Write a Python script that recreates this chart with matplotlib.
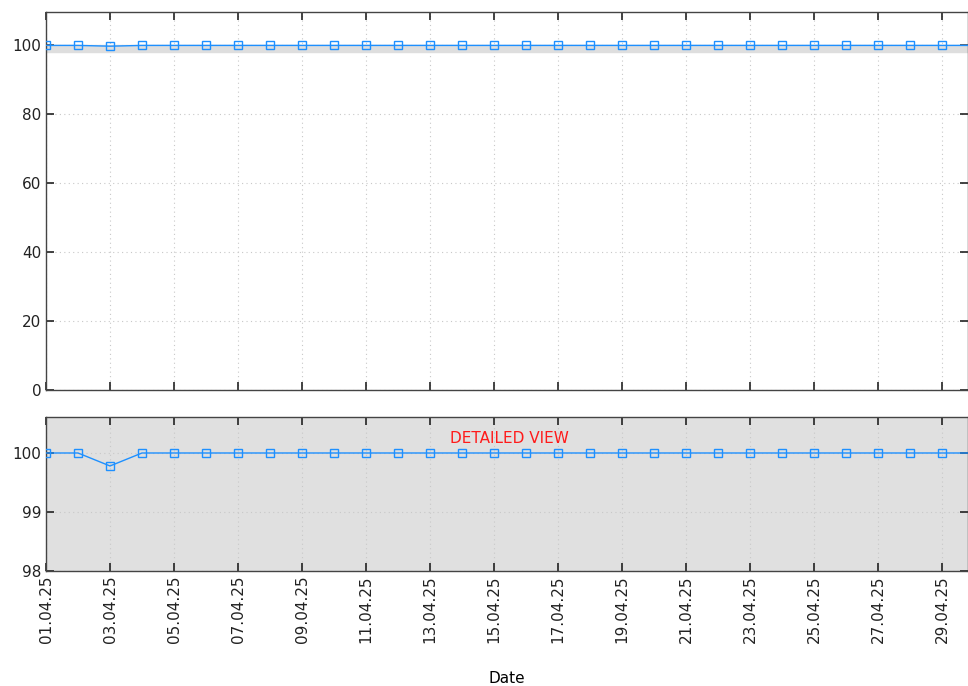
import matplotlib
matplotlib.use("Agg")
import matplotlib.pyplot as plt
import matplotlib.dates as mdates
import numpy as np
import datetime as dt

days = list(range(1, 31))
dates = [dt.date(2025, 4, d) for d in days]
values = [100, 100, 99.78, 100, 100, 100, 100, 100, 100, 100,
          100, 100, 100, 100, 100, 100, 100, 100, 100, 100,
          100, 100, 100, 100, 100, 100, 100, 100, 100, 100]
detail_range = [98, 100]
top_yticks = [0, 20, 40, 60, 80, 100]
bottom_yticks = [98, 99, 100]
xtick_dates = dates[:29:2]

plt.rcParams['font.family'] = ['DejaVu Sans']
fig = plt.figure(figsize=(9.68, 6.86), dpi=100)
W, H = 968, 686
x0, x1 = 46, 968
ax1 = fig.add_axes([x0 / W, 1 - 390 / H, (x1 - x0) / W, (390 - 12) / H])
ax2 = fig.add_axes([x0 / W, 1 - 571 / H, (x1 - x0) / W, (571 - 417) / H])

color = '#1e90ff'
xnum = mdates.date2num(dates)
xmin = xnum[0]
xmax = xnum[0] + (x1 - x0) / 32.0

for ax in (ax1, ax2):
    ax.plot(dates, values, color=color, lw=1.0, marker='s', ms=5.5,
            mfc='none', mec=color, mew=1.0, zorder=3, clip_on=True)
    ax.set_xlim(xmin, xmax)
    ax.set_xticks(mdates.date2num(xtick_dates))
    ax.xaxis.set_major_formatter(mdates.DateFormatter('%d.%m.%y'))
    ax.grid(True, linestyle=(0, (1, 3)), color='#c8c8c8', lw=0.8)
    ax.tick_params(direction='in', length=6, width=1.2, top=True, right=True,
                   labelsize=11, colors='#222222')
    for s in ax.spines.values():
        s.set_color('#444444')
        s.set_linewidth(1.0)
    ax.set_axisbelow(True)

ax1.set_ylim(0, 109.7)
ax1.set_yticks(top_yticks)
ax1.axhspan(detail_range[0], detail_range[1], color='#dedede', zorder=1)
ax1.tick_params(labelbottom=False)

ax2.set_facecolor('#e0e0e0')
ax2.set_ylim(98, 100.61)
ax2.set_yticks(bottom_yticks)
ax2.tick_params(axis='x', labelrotation=90)
ax2.text(0.5028, 0.86, 'DETAILED VIEW', color='#ff1a1a', fontsize=11,
         transform=ax2.transAxes, ha='center', va='center')
ax2.set_xlabel('Date', fontsize=11, labelpad=20)

fig.savefig('out.png', dpi=100, facecolor='white')
